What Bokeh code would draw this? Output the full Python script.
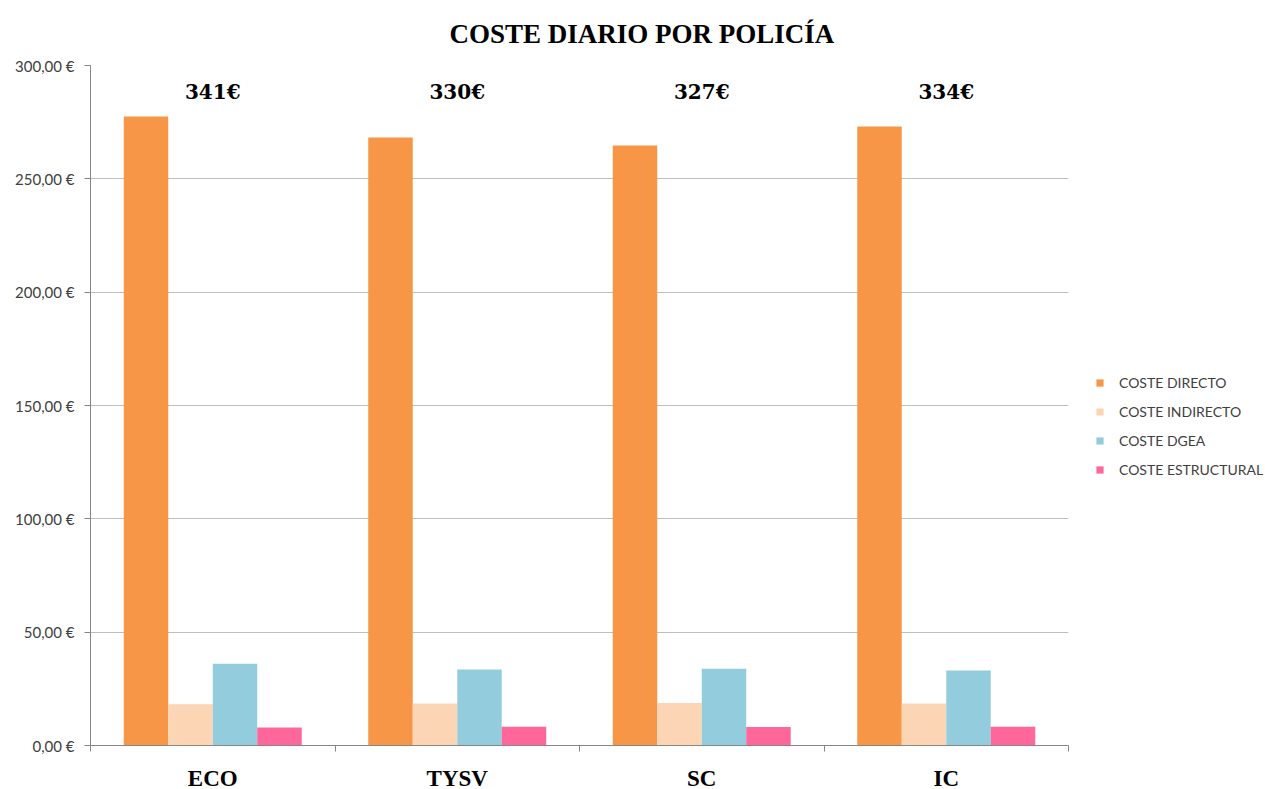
from bokeh.plotting import figure
from bokeh.models import (Range1d, FixedTicker, Legend, LegendItem,
                          ColumnDataSource)
from bokeh.transform import dodge
from bokeh.core.properties import value
from bokeh.embed import file_html
from bokeh.resources import INLINE

# ---------------- data ----------------
categories = ["ECO", "TYSV", "SC", "IC"]
coste_directo = [277.5, 268.2, 264.7, 273.1]
coste_indirecto = [18.2, 18.5, 18.8, 18.5]
coste_dgea = [36.1, 33.5, 33.9, 33.1]
coste_estructural = [7.9, 8.3, 8.2, 8.3]
totales = ["341€", "330€", "327€", "334€"]
series_names = ["COSTE DIRECTO", "COSTE INDIRECTO", "COSTE DGEA", "COSTE ESTRUCTURAL"]
series_colors = ["#F79646", "#FCD5B5", "#93CDDD", "#FF6699"]
y_ticks = [0, 50, 100, 150, 200, 250, 300]
y_tick_labels = ["0,00 €", "50,00 €", "100,00 €", "150,00 €", "200,00 €", "250,00 €", "300,00 €"]
title_text = "COSTE DIARIO POR POLICÍA"

# ---------------- figure ----------------
centers = [i + 0.5 for i in range(len(categories))]
source = ColumnDataSource(dict(
    x=centers,
    directo=coste_directo,
    indirecto=coste_indirecto,
    dgea=coste_dgea,
    estructural=coste_estructural,
    total=totales,
))

p = figure(frame_width=978, frame_height=680,
           x_range=Range1d(0, len(categories)), y_range=Range1d(0, 300),
           output_backend="svg", toolbar_location=None,
           min_border_left=90, min_border_right=197,
           min_border_top=64, min_border_bottom=45)
p.outline_line_color = None
p.background_fill_color = "white"
p.border_fill_color = "white"

bw = 0.182
offsets = [-1.5 * bw, -0.5 * bw, 0.5 * bw, 1.5 * bw]
cols = ["directo", "indirecto", "dgea", "estructural"]
renderers = []
for col, off, color in zip(cols, offsets, series_colors):
    r = p.vbar(x=dodge("x", off), top=col, width=bw, bottom=0,
               source=source, fill_color=color, line_color=None)
    renderers.append(r)

# totals above each group
p.text(x="x", y=288.5, text="total", source=source,
       text_font=value("DejaVu Serif"), text_font_style="bold",
       text_font_size="20px", text_align="center", text_baseline="middle",
       text_color="black")

# title
p.title.text = title_text
p.title.align = "left"
p.title.offset = 359
p.title.standoff = 33
p.title.text_font = "Liberation Serif"
p.title.text_font_style = "bold"
p.title.text_font_size = "27px"
p.title.text_color = "black"

# y axis
p.yaxis.ticker = FixedTicker(ticks=y_ticks)
p.yaxis.major_label_overrides = {t: l for t, l in zip(y_ticks, y_tick_labels)}
p.yaxis.major_label_text_font = "Lato"
p.yaxis.major_label_text_font_size = "15px"
p.yaxis.major_label_text_color = "#404040"
p.yaxis.axis_line_color = "#868686"
p.yaxis.major_tick_line_color = "#868686"
p.yaxis.major_tick_out = 6
p.yaxis.major_tick_in = 0
p.yaxis.minor_tick_line_color = None
p.yaxis.major_label_standoff = 10

# x axis
p.xaxis.ticker = FixedTicker(ticks=centers, minor_ticks=list(range(len(categories) + 1)))
p.xaxis.major_label_overrides = {c: n for c, n in zip(centers, categories)}
p.xaxis.major_label_text_font = "Liberation Serif"
p.xaxis.major_label_text_font_style = "bold"
p.xaxis.major_label_text_font_size = "23px"
p.xaxis.major_label_text_color = "black"
p.xaxis.axis_line_color = "#868686"
p.xaxis.major_tick_line_color = None
p.xaxis.major_tick_out = 0
p.xaxis.minor_tick_line_color = "#868686"
p.xaxis.minor_tick_out = 6
p.xaxis.minor_tick_in = 0
p.xaxis.major_label_standoff = 14

# grid
p.xgrid.grid_line_color = None
p.ygrid.ticker = FixedTicker(ticks=y_ticks)
p.ygrid.grid_line_color = "#BEBEBE"

# legend
legend = Legend(items=[LegendItem(label=n, renderers=[r]) for n, r in zip(series_names, renderers)],
                location=(27, 266))
legend.border_line_color = None
legend.background_fill_alpha = 0
legend.label_text_font = "Lato"
legend.label_text_font_size = "14px"
legend.label_text_color = "#404040"
legend.glyph_width = 9
legend.glyph_height = 9
legend.label_height = 20
legend.label_standoff = 15
legend.spacing = 9
legend.margin = 0
legend.padding = 0
p.add_layout(legend, "right")

open("out.html", "w").write(file_html(p, INLINE))
